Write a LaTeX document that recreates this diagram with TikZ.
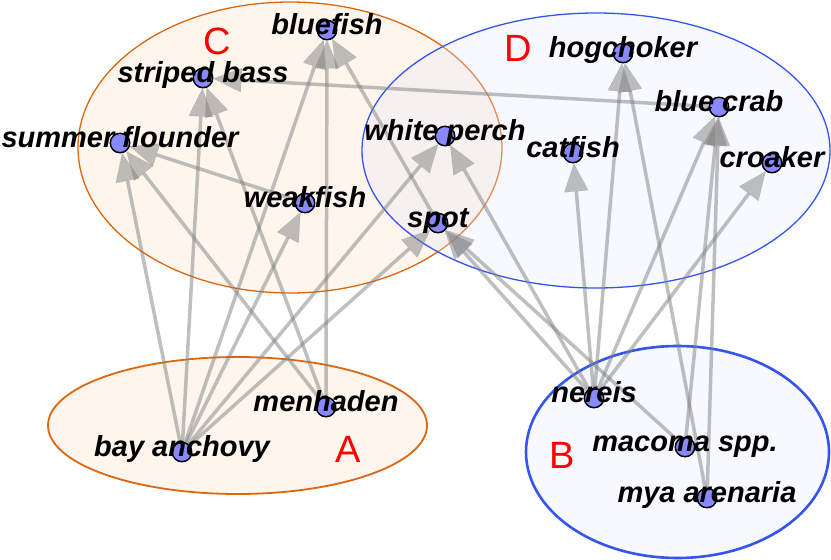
\documentclass[tikz,border=0pt]{standalone}
\usepackage{fontspec}
\setmainfont{Liberation Sans}
\usetikzlibrary{arrows.meta}
\definecolor{nodeblue}{RGB}{136,136,255}
\definecolor{edgegray}{RGB}{128,128,128}
\definecolor{orangeline}{RGB}{221,102,17}
\definecolor{orangefill}{RGB}{254,245,236}
\definecolor{blueline}{RGB}{51,85,238}
\definecolor{bluefill}{RGB}{228,234,252}
\begin{document}
\begin{tikzpicture}[x=1pt,y=-1pt,
  sp/.style={circle,draw=black,line width=0.9pt,fill=nodeblue,minimum size=20pt,inner sep=0pt},
  lbl/.style={font=\fontsize{29}{29}\selectfont\bfseries\itshape,inner sep=0pt,anchor=base},
  grp/.style={font=\fontsize{38}{38}\selectfont,text=red,inner sep=0pt},
  edge/.style={draw=edgegray,line width=3.5pt,opacity=0.5,-{Triangle[length=28pt,width=24pt,line width=0.1pt]}},
  orangeset/.style={draw=orangeline,fill=orangefill},
  blueset/.style={draw=blueline}]
\useasboundingbox (0,0) rectangle (831,560);
% group ellipses
\path[orangeset,line width=1.3pt] (290,147.5) ellipse [x radius=212, y radius=145.5];
\path[fill=bluefill,fill opacity=0.3] (596,150.5) ellipse [x radius=234, y radius=137.5];
\path[blueset,line width=1.3pt] (596,150.5) ellipse [x radius=234, y radius=137.5];
\path[orangeset,line width=1.8pt] (237.5,425.5) ellipse [x radius=189.5, y radius=68.5];
\path[fill=bluefill,fill opacity=0.3] (677.5,452) ellipse [x radius=151.5, y radius=106];
\path[blueset,line width=2.6pt] (677.5,452) ellipse [x radius=151.5, y radius=106];
% group letters
\node[grp] (gA) at (348,449) {A};
\node[grp] (gB) at (562,455.5) {B};
\node[grp] (gC) at (217,41) {C};
\node[grp] (gD) at (518,48) {D};
% species points
\node[sp] (bf) at (327,30) {};
\node[sp] (sb) at (203,78) {};
\node[sp] (sf) at (120,143) {};
\node[sp] (wf) at (305,203) {};
\node[sp] (wp) at (445,136) {};
\node[sp] (spt) at (438,223) {};
\node[sp] (hc) at (623,53) {};
\node[sp] (bc) at (719,107) {};
\node[sp] (cf) at (573,153) {};
\node[sp] (cr) at (772,163) {};
\node[sp] (ba) at (182,452) {};
\node[sp] (mh) at (326,407) {};
\node[sp] (nr) at (594,398) {};
\node[sp] (mc) at (685,447) {};
\node[sp] (my) at (707,498) {};
% edges
\draw[edge] (ba) -- (sf);
\draw[edge] (ba) -- (sb);
\draw[edge] (ba) -- (bf);
\draw[edge] (ba) -- (wf);
\draw[edge] (ba) -- (wp);
\draw[edge] (ba) -- (spt);
\draw[edge] (mh) -- (bf);
\draw[edge] (mh) -- (sf);
\draw[edge] (mh) -- (sb);
\draw[edge] (wf) -- (sf);
\draw[edge] (bc) -- (sb);
\draw[edge] (spt) -- (bf);
\draw[edge] (nr) -- (spt);
\draw[edge] (nr) -- (wp);
\draw[edge] (nr) -- (cf);
\draw[edge] (nr) -- (hc);
\draw[edge] (nr) -- (bc);
\draw[edge] (nr) -- (cr);
\draw[edge] (mc) -- (spt);
\draw[edge] (mc) -- (bc);
\draw[edge] (my) -- (hc);
\draw[edge] (my) -- (bc);
% redraw points over edges
\foreach \p in {bf,sb,sf,wf,wp,spt,hc,bc,cf,cr,ba,mh,nr,mc,my}
  \path[draw=black,line width=1pt,fill=nodeblue] (\p.center) circle [radius=9.5pt];
% labels
\node[lbl] (tbf) at (327,34.5) {bluefish};
\node[lbl] (tsb) at (203,82.5) {striped bass};
\node[lbl] (tsf) at (120,147.5) {summer flounder};
\node[lbl] (twf) at (305,207.5) {weakfish};
\node[lbl] (twp) at (445,140.5) {white perch};
\node[lbl] (tspt) at (438,227.5) {spot};
\node[lbl] (thc) at (623,57.5) {hogchoker};
\node[lbl] (tbc) at (719,111.5) {blue crab};
\node[lbl] (tcf) at (573,157.5) {catfish};
\node[lbl] (tcr) at (772,167.5) {croaker};
\node[lbl] (tba) at (182,456.5) {bay anchovy};
\node[lbl] (tmh) at (326,411.5) {menhaden};
\node[lbl] (tnr) at (594,402) {nereis};
\node[lbl] (tmc) at (685,451.5) {macoma spp.};
\node[lbl] (tmy) at (707,502.5) {mya arenaria};
\end{tikzpicture}
\end{document}
